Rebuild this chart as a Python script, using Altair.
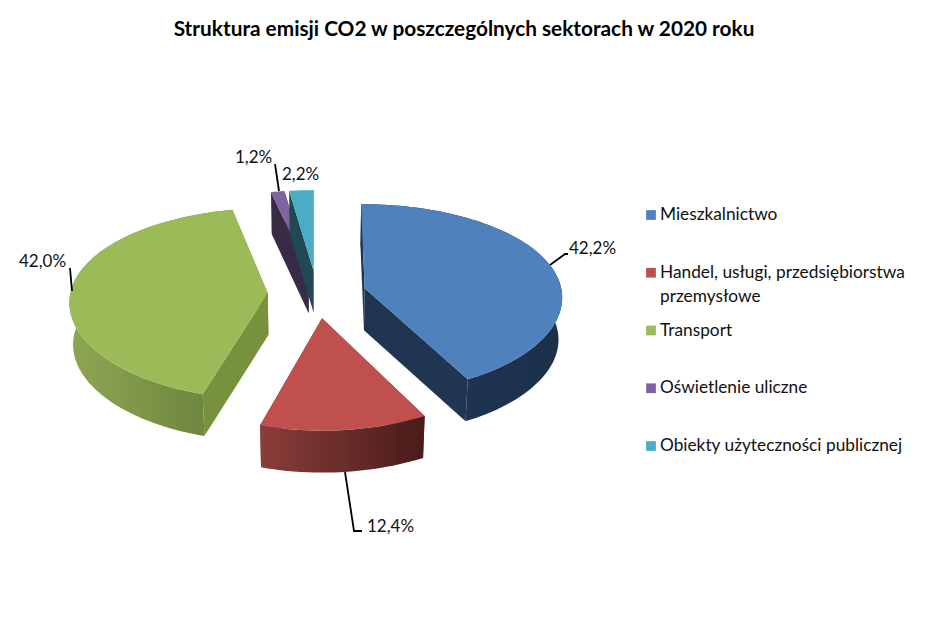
import math
import altair as alt
import pandas as pd

categories = ["Mieszkalnictwo", "Handel, usługi, przedsiębiorstwa\nprzemysłowe", "Transport",
              "Oświetlenie uliczne", "Obiekty użyteczności publicznej"]
values = [42.2, 12.4, 42.0, 1.2, 2.2]
labels = ["42,2%", "12,4%", "42,0%", "1,2%", "2,2%"]
top_colors = ["#4f81bd", "#c0504d", "#9bbb59", "#8064a2", "#4bacc6"]
cut_colors = ["#1f3552", "#6e2f2d", "#76923c", "#372b46", "#1f4a55"]
wall_from = ["#21395a", "#8a3d3a", "#8ea653", "#372b46", "#1f4a55"]
wall_to = ["#1b3049", "#481c1a", "#68803a", "#372b46", "#1f4a55"]
draw_order = [3, 4, 2, 0, 1]

# pie geometry
CX, CY, R, RY, PERSP, PERSP_X, EXPLODE, DEPTH, BOTTOM = 317, 294, 197.5, 94.5, 0.109, 0.08, 0.25, 42, 0.985


def proj(u, v, drop=0):
    x = CX + R * u / (1 + PERSP_X * v)
    y = CY - RY * v / (1 + PERSP * v)
    if drop:
        x = CX + (x - CX) * BOTTOM
    return x, y + drop


def slice_geometry(start, end):
    mid = (start + end) / 2
    eu, ev = EXPLODE * math.sin(mid), EXPLODE * math.cos(mid)
    steps = max(4, int((end - start) / 0.03))
    thetas = [start + (end - start) * i / steps for i in range(steps + 1)]
    rim = [(eu + math.sin(t), ev + math.cos(t)) for t in thetas]
    return (eu, ev), rim


def poly(points):
    pts = list(points) + [points[0]]
    return pd.DataFrame({"x": [p[0] for p in pts], "y": [p[1] for p in pts], "o": range(len(pts))})


X = alt.X("x:Q", scale=alt.Scale(domain=[8, 920], nice=False, zero=False), axis=None)
Y = alt.Y("y:Q", scale=alt.Scale(domain=[630, 48], nice=False, zero=False), axis=None)


def face(points, fill):
    return alt.Chart(poly(points)).mark_line(fill=fill, stroke=None, interpolate="linear").encode(
        x=X, y=Y, order="o:Q")


starts = []
acc = 0.0
total = sum(values)
for v in values:
    starts.append((acc / total * 2 * math.pi, (acc + v) / total * 2 * math.pi))
    acc += v

layers = []
for i in draw_order:
    apex, rim = slice_geometry(*starts[i])
    a_top = proj(*apex)
    a_bot = proj(*apex, DEPTH)
    top_rim = [proj(*p) for p in rim]
    bot_rim = [proj(*p, DEPTH) for p in rim]
    for end_top, end_bot in ((top_rim[0], bot_rim[0]), (top_rim[-1], bot_rim[-1])):
        layers.append(face([a_top, end_top, end_bot, a_bot], cut_colors[i]))
    if i in (0, 1, 2):
        grad = alt.LinearGradient(gradient="linear", x1=0, x2=1, y1=0, y2=0,
                                  stops=[alt.GradientStop(color=wall_from[i], offset=0),
                                         alt.GradientStop(color=wall_to[i], offset=1)])
        layers.append(face(top_rim + bot_rim[::-1], grad))
    layers.append(face([a_top] + top_rim, top_colors[i]))

# leader lines, one per label
leaders = [
    [(550, 265), (565, 254), (568, 254)],
    [(345, 472), (354, 531), (362, 531)],
    [(72, 291), (70, 268)],
    [(279, 191), (275, 164)],
]
for pts in leaders:
    d = pd.DataFrame({"x": [p[0] for p in pts], "y": [p[1] for p in pts], "o": range(len(pts))})
    layers.append(alt.Chart(d).mark_line(color="#000000", strokeWidth=1.8).encode(x=X, y=Y, order="o:Q"))

label_x = [569, 367, 19, 235, 282]
label_y = [249, 527, 262, 158, 175]
lab = pd.DataFrame({"t": labels, "x": label_x, "y": label_y})
layers.append(alt.Chart(lab).mark_text(align="left", baseline="middle", font="Lato", fontSize=17, color="#111111")
              .encode(x=X, y=Y, text="t:N"))

# legend
leg = pd.DataFrame({"c": categories, "lines": [c.split("\n") for c in categories], "color": top_colors})
leg_y = alt.Y("c:N", sort=categories, axis=None,
              scale=alt.Scale(type="point", domain=categories, range=[215 - 48, 446 - 48], padding=0))
layers.append(alt.Chart(leg).mark_square(size=95, opacity=1, filled=True).encode(
    x=alt.value(651 - 8), y=leg_y, color=alt.Color("color:N", scale=None)))
layers.append(alt.Chart(leg).mark_text(align="left", baseline="middle", font="Lato", fontSize=17.3, lineHeight=24,
                                       color="#111111").encode(x=alt.value(660 - 8), y=leg_y, text="lines:N"))

chart = alt.layer(*layers).resolve_scale(y="independent").properties(
    width=912, height=582, padding={"top": 40, "left": 0, "right": 0, "bottom": 0},
    autosize=alt.AutoSizeParams(type="none"),
    background="#ffffff",
    title=alt.TitleParams("Struktura emisji CO2 w poszczególnych sektorach w 2020 roku", font="Lato",
                          fontSize=20.8, fontWeight="bold", color="#000000", anchor="middle", offset=7),
).configure_view(stroke=None)

chart.save("out.html", embed_options={"renderer": "svg", "actions": False})
